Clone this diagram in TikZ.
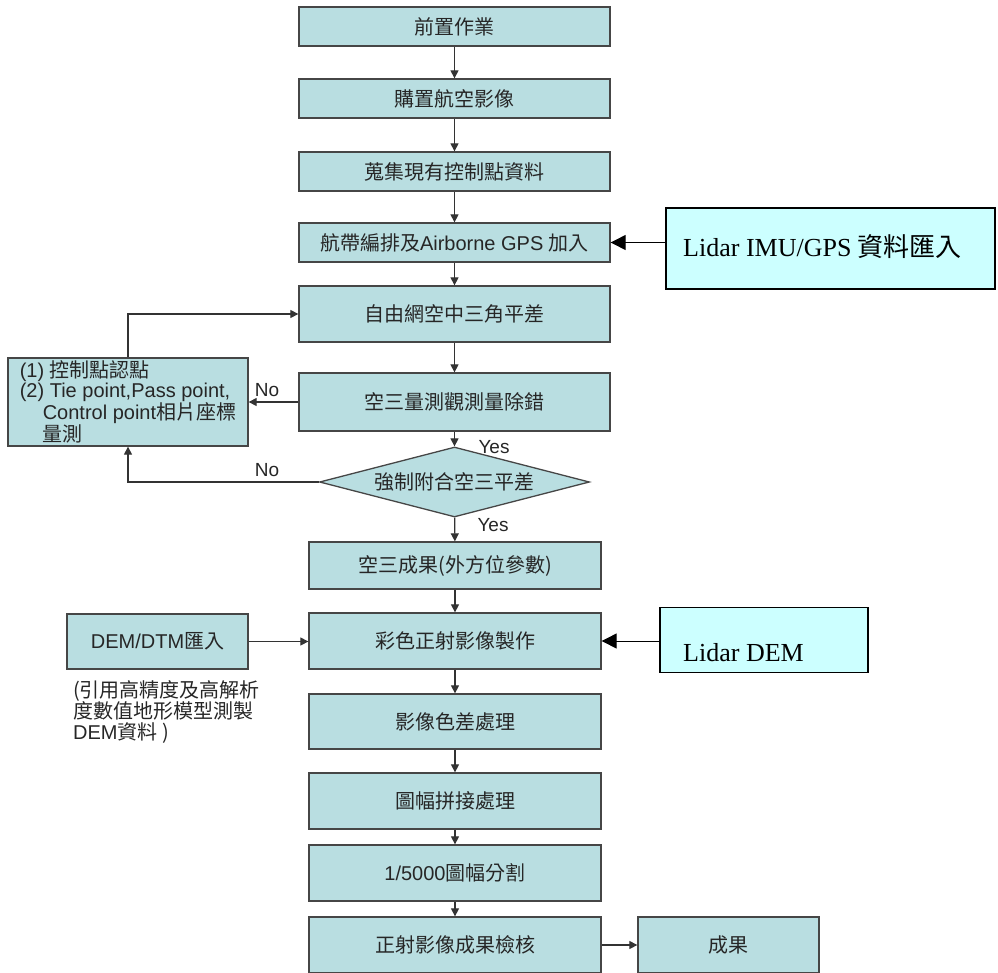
\documentclass[tikz,border=0pt]{standalone}
\usepackage{fontspec}
\setmainfont{Liberation Sans}
\newfontfamily\zhfont{Noto Sans CJK TC}
\newfontfamily\lidarfont{Liberation Serif}
\usetikzlibrary{arrows.meta,shapes.geometric}
\definecolor{boxfill}{RGB}{185,222,225}
\definecolor{lidarfill}{RGB}{204,255,255}
\definecolor{boxline}{RGB}{70,70,70}
\newcommand{\zh}[1]{{\zhfont #1}}

\begin{document}
\begin{tikzpicture}[x=1pt,y=-1pt,
  stepbox/.style={draw=boxline,line width=1.3pt,fill=boxfill,inner sep=0pt,
    text=black!85,font=\fontsize{20}{24}\selectfont},
  colA/.style={stepbox,minimum width=311pt},
  colB/.style={stepbox,minimum width=292pt},
  lidarbox/.style={draw=black,line width=1.8pt,fill=lidarfill,inner sep=0pt},
  lidartext/.style={font=\lidarfont\fontsize{26}{30}\selectfont,inner sep=0pt},
  conn/.style={draw=black!80,line width=1.2pt,-{Triangle[length=8pt,width=8pt]}},
  bigconn/.style={draw=black,line width=1pt,-{Triangle[length=15pt,width=15pt]}},
  lbl/.style={font=\fontsize{19}{22}\selectfont,text=black!85,inner sep=0pt}]

\useasboundingbox (0,0) rectangle (998,972);
\clip (0,0) rectangle (998,972);

\node[colA,minimum height=39pt] (prep) at (454.5,26.5) {\zh{前置作業}};
\node[colA,minimum height=39pt] (buy) at (454.5,98.5) {\zh{購置航空影像}};
\node[colA,minimum height=39pt] (collect) at (454.5,171.5) {\zh{蒐集現有控制點資料}};
\node[colA,minimum height=39pt] (strip) at (454.5,242.5) {\zh{航帶編排及}Airborne GPS \zh{加入}};
\node[colA,minimum height=56pt] (freenet) at (454.5,314) {\zh{自由網空中三角平差}};
\node[colA,minimum height=58pt] (debug) at (454.5,402) {\zh{空三量測觀測量除錯}};
\node[stepbox,diamond,aspect=3.9,minimum width=270pt,minimum height=70pt] (forced) at (454.5,482) {\zh{強制附合空三平差}};
\node[colB,minimum height=47pt] (result) at (455,565.5) {\zh{空三成果(外方位參數)}};
\node[colB,minimum height=56pt] (ortho) at (455,641) {\zh{彩色正射影像製作}};
\node[colB,minimum height=55pt] (color) at (455,721.5) {\zh{影像色差處理}};
\node[colB,minimum height=56pt] (mosaic) at (455,801) {\zh{圖幅拼接處理}};
\node[colB,minimum height=56pt] (split) at (455,873) {1/5000\zh{圖幅分割}};
\node[colB,minimum height=56pt] (check) at (455,945) {\zh{正射影像成果檢核}};
\node[stepbox,minimum width=181pt,minimum height=56pt] (final) at (728.5,945) {\zh{成果}};

\node[stepbox,minimum width=240pt,minimum height=88pt,align=left,
  font=\fontsize{20}{20.5}\selectfont] (ctrl) at (128,402)
  {(1) \zh{控制點認點}\\(2) Tie point,Pass point,\\\hspace*{23pt}Control point\zh{相片座標}\\\hspace*{23pt}\zh{量測}};
\node[stepbox,minimum width=181pt,minimum height=55pt] (dem) at (157.5,641.5) {DEM/DTM\zh{匯入}};
\node[anchor=north west,align=left,inner sep=0pt,text=black!85,
  font=\fontsize{20}{21}\selectfont] (demnote) at (73,680)
  {\zh{(引用高精度及高解析}\\\zh{度數值地形模型測製}\\DEM\zh{資料 )}};

\node[lidarbox,minimum width=329pt,minimum height=81pt] (imu) at (830.5,248.5) {};
\node[lidartext,anchor=base west] (imutext) at (683,256) {Lidar IMU/GPS \zh{資料匯入}};
\node[lidarbox,minimum width=208pt,minimum height=65pt] (lidem) at (764,640) {};
\node[lidartext,anchor=base west] (lidemtext) at (683,661) {Lidar DEM};

\draw[conn] (prep) -- (buy);
\draw[conn] (buy) -- (collect);
\draw[conn] (collect) -- (strip);
\draw[conn] (strip) -- (freenet);
\draw[conn] (freenet) -- (debug);
\draw[conn] (debug) -- (forced);
\draw[conn] (forced) -- (result);
\draw[conn] (result) -- (ortho);
\draw[conn] (ortho) -- (color);
\draw[conn] (color) -- (mosaic);
\draw[conn] (mosaic) -- (split);
\draw[conn] (split) -- (check);
\draw[conn] (check) -- (final);

\draw[conn] (debug.west) -- (ctrl.east |- debug.west);
\draw[conn] (ctrl.north) |- (freenet.west);
\draw[conn] (forced.west) -| (ctrl.south);
\draw[conn] (dem.east) -- (ortho.west |- dem.east);

\draw[bigconn] (imu.west |- strip.east) -- (strip.east);
\draw[bigconn] (lidem.west |- ortho.east) -- (ortho.east);

\node[lbl] (yes1) at (494,447) {Yes};
\node[lbl] (yes2) at (493,525) {Yes};
\node[lbl] (no1) at (267,390) {No};
\node[lbl] (no2) at (267,470) {No};

\end{tikzpicture}
\end{document}
